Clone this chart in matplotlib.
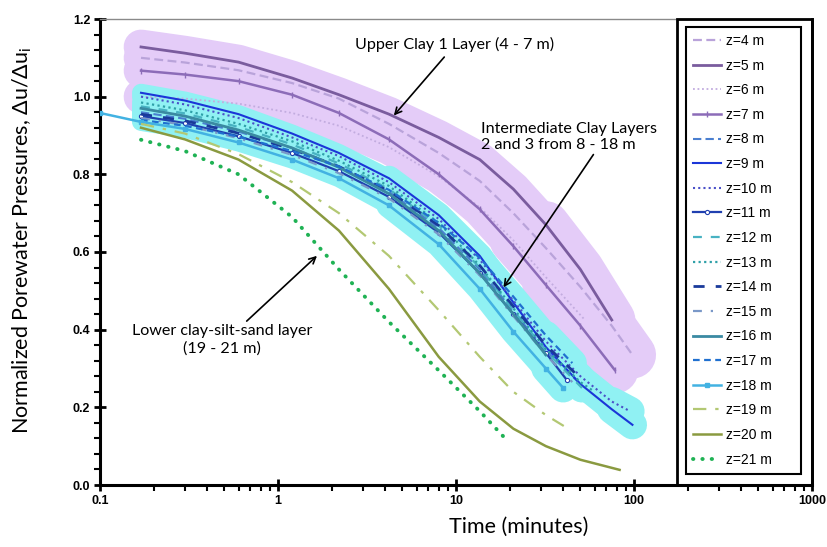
import numpy as np
import matplotlib
matplotlib.use("Agg")
import matplotlib.pyplot as plt
from matplotlib.patches import Rectangle
from matplotlib.ticker import FixedLocator, NullFormatter, LogLocator

# ---------------- data ----------------
# common time readings (minutes)
t_grid = [0.17, 0.3, 0.6, 1.2, 2.2, 4.2, 8, 13.6, 21, 32, 50, 75, 100]

# Upper clay 1 layer
t_z4 = t_grid[:11] + [75, 98]
v_z4 = [1.100, 1.088, 1.068, 1.035, 0.995, 0.930, 0.855, 0.783, 0.700, 0.610, 0.510, 0.410, 0.335]
t_z5 = t_grid[:12]
v_z5 = [1.128, 1.112, 1.089, 1.048, 1.005, 0.955, 0.895, 0.838, 0.762, 0.670, 0.555, 0.425]
t_z6 = t_grid[:10] + [53]
v_z6 = [1.000, 0.995, 0.982, 0.958, 0.925, 0.870, 0.795, 0.715, 0.630, 0.535, 0.425]
t_z7 = t_grid[:11] + [78]
v_z7 = [1.067, 1.057, 1.040, 1.005, 0.958, 0.890, 0.800, 0.710, 0.615, 0.515, 0.410, 0.296]

# Intermediate clay layers 2 and 3
t_z8 = t_grid[:10] + [50]
v_z8 = [0.960, 0.943, 0.910, 0.868, 0.820, 0.755, 0.662, 0.555, 0.447, 0.345, 0.260]
t_z9 = t_grid[:12] + [98]
v_z9 = [1.010, 0.990, 0.955, 0.905, 0.855, 0.790, 0.695, 0.590, 0.470, 0.355, 0.260, 0.195, 0.155]
t_z10 = t_grid[:12] + [95]
v_z10 = [1.000, 0.980, 0.945, 0.895, 0.847, 0.780, 0.685, 0.580, 0.475, 0.370, 0.280, 0.215, 0.190]
t_z11 = t_grid[:10] + [42]
v_z11 = [0.950, 0.932, 0.898, 0.855, 0.808, 0.742, 0.650, 0.545, 0.440, 0.340, 0.270]
t_z12 = t_grid[:10] + [51]
v_z12 = [0.975, 0.957, 0.922, 0.877, 0.828, 0.762, 0.668, 0.560, 0.450, 0.345, 0.250]
t_z13 = t_grid[:11] + [60]
v_z13 = [0.985, 0.965, 0.930, 0.885, 0.835, 0.770, 0.675, 0.565, 0.455, 0.350, 0.265, 0.240]
t_z14 = t_grid[:10] + [50]
v_z14 = [0.955, 0.938, 0.906, 0.865, 0.820, 0.757, 0.668, 0.565, 0.460, 0.360, 0.275]
t_z15 = t_grid[:10] + [45]
v_z15 = [0.945, 0.927, 0.893, 0.850, 0.803, 0.738, 0.645, 0.540, 0.435, 0.335, 0.265]
t_z16 = t_grid[:10]
v_z16 = [0.970, 0.950, 0.914, 0.868, 0.818, 0.750, 0.655, 0.545, 0.440, 0.335]
t_z17 = t_grid[:10] + [45]
v_z17 = [0.940, 0.925, 0.897, 0.860, 0.820, 0.760, 0.675, 0.585, 0.485, 0.385, 0.314]
t_z18 = [0.1] + t_grid[:10] + [40]
v_z18 = [0.958, 0.935, 0.917, 0.882, 0.838, 0.790, 0.720, 0.620, 0.505, 0.395, 0.300, 0.250]

# Lower clay-silt-sand layer
t_z19 = t_grid[:10] + [42]
v_z19 = [0.930, 0.905, 0.852, 0.780, 0.700, 0.590, 0.450, 0.330, 0.240, 0.180, 0.147]
t_z20 = t_grid[:11] + [83]
v_z20 = [0.920, 0.890, 0.838, 0.758, 0.655, 0.505, 0.330, 0.215, 0.145, 0.100, 0.065, 0.039]
t_z21 = t_grid[:8] + [18.8]
v_z21 = [0.889, 0.860, 0.800, 0.690, 0.555, 0.420, 0.295, 0.190, 0.121]

labels = ["z=%d m" % z for z in range(4, 22)]
x_ticks = [0.1, 1, 10, 100, 1000]
x_ticklabels = ["0.1", "1", "10", "100", "1000"]
y_ticks = [0.0, 0.2, 0.4, 0.6, 0.8, 1.0, 1.2]

series = [
    (t_z4, v_z4, dict(color="#b9a3da", ls=(0, (4, 2)), lw=1.6)),
    (t_z5, v_z5, dict(color="#7a5c9e", ls="-", lw=2.0)),
    (t_z6, v_z6, dict(color="#c2acdf", ls=(0, (1, 1.5)), lw=1.3)),
    (t_z7, v_z7, dict(color="#8c6cb8", ls="-", lw=1.8, marker="|", ms=4, mew=1)),
    (t_z8, v_z8, dict(color="#4a7fd0", ls=(0, (4, 2)), lw=1.5)),
    (t_z9, v_z9, dict(color="#1b36d8", ls="-", lw=1.5)),
    (t_z10, v_z10, dict(color="#4a50c8", ls=(0, (1, 1.5)), lw=1.5)),
    (t_z11, v_z11, dict(color="#2040b0", ls="-", lw=1.6, marker="o", ms=3, mfc="white", mew=0.8)),
    (t_z12, v_z12, dict(color="#48b2c2", ls=(0, (4, 4)), lw=1.6)),
    (t_z13, v_z13, dict(color="#2fa0a8", ls=(0, (1, 1.5)), lw=1.6)),
    (t_z14, v_z14, dict(color="#1a3a9a", ls=(0, (4, 4)), lw=2.0)),
    (t_z15, v_z15, dict(color="#7a98c8", ls=(0, (4, 4, 1, 4)), lw=1.6)),
    (t_z16, v_z16, dict(color="#3a8aa2", ls="-", lw=2.0)),
    (t_z17, v_z17, dict(color="#2070d0", ls=(0, (3, 2)), lw=1.6)),
    (t_z18, v_z18, dict(color="#42b2e2", ls="-", lw=1.8, marker="s", ms=2.2)),
    (t_z19, v_z19, dict(color="#b3c873", ls=(0, (6, 4, 1.5, 4)), lw=1.6)),
    (t_z20, v_z20, dict(color="#8a9a40", ls="-", lw=1.8)),
    (t_z21, v_z21, dict(color="#1fb254", ls=(0, (0.1, 2.3)), lw=2.8, dash_capstyle="round")),
]

fig = plt.figure(figsize=(8.28, 5.47), dpi=100)
ax = fig.add_axes([100 / 828, (547 - 485) / 547, (812 - 100) / 828, (485 - 19) / 547])
ax.set_xscale("log")
ax.set_xlim(0.1, 1000)
ax.set_ylim(0, 1.2)

# highlight bands built from the data curves
purple_band = "#e4ccf8"
cyan_band = "#90f1f3"
for i in range(0, 4):
    t, v, _ = series[i]
    ax.plot(t, v, color=purple_band, lw=25, solid_capstyle="round", solid_joinstyle="round", zorder=1)
    ax.plot(t[-3:], v[-3:], color=purple_band, lw=34, solid_capstyle="round", zorder=1)
for i in range(4, 15):
    t, v, _ = series[i]
    if i == 14:
        t, v = t[1:], v[1:]
    ax.plot(t, v, color=cyan_band, lw=13, solid_capstyle="round", solid_joinstyle="round", zorder=2)
    ax.plot(t[5:], v[5:], color=cyan_band, lw=18, solid_capstyle="round", solid_joinstyle="round", zorder=2)
    ax.plot(t[-2:], v[-2:], color=cyan_band, lw=21, solid_capstyle="round", zorder=2)

handles = []
for (t, v, st), lab in zip(series, labels):
    h, = ax.plot(t, v, label=lab, zorder=3, **st)
    handles.append(h)

# axes styling
for s in ["left", "bottom"]:
    ax.spines[s].set_linewidth(2.2)
    ax.spines[s].set_color("black")
ax.spines["top"].set_color("#8a8a8a")
ax.spines["top"].set_linewidth(1.0)
ax.spines["right"].set_linewidth(2.0)

ax.xaxis.set_major_locator(FixedLocator(x_ticks))
ax.set_xticklabels(x_ticklabels)
ax.xaxis.set_minor_locator(LogLocator(base=10, subs=np.arange(2, 10)))
ax.xaxis.set_minor_formatter(NullFormatter())
ax.yaxis.set_major_locator(FixedLocator(y_ticks))
ax.set_yticklabels(["%.1f" % y for y in y_ticks])
ax.yaxis.set_minor_locator(FixedLocator(np.arange(0, 1.2001, 0.04)))
ax.tick_params(which="major", direction="inout", length=8, width=2, labelsize=9, pad=3)
ax.tick_params(which="minor", direction="out", length=4, width=1.5)
ax.tick_params(top=False, right=False, which="both")
for lab in ax.get_xticklabels() + ax.get_yticklabels():
    lab.set_fontweight("bold")
    lab.set_family(["Liberation Sans", "DejaVu Sans"])

ax.set_xlabel("Time (minutes)", family=["Lato", "DejaVu Sans"], fontsize=15.5)
ax.xaxis.label.set_va("center")
ax.xaxis.set_label_coords((519 - 100) / 712, (485 - 527) / 466)
ax.set_ylabel("Normalized Porewater Pressures, Δu/Δu$_\\mathregular{i}$",
              family=["Lato", "DejaVu Sans"], fontsize=15.5)
ax.yaxis.label.set_va("center")
ax.yaxis.set_label_coords((22 - 100) / 712, (485 - 240) / 466)

# legend with outer frame
lx0 = (686 - 100) / 712
lw_ = (801 - 686) / 712
ltop = (485 - 27) / 466
leg = ax.legend(handles=handles, loc="upper left", bbox_to_anchor=(lx0, 0, lw_, ltop), mode="expand",
                borderaxespad=0,
                prop=dict(family="Liberation Sans", size=10), frameon=True, fancybox=False,
                edgecolor="black", framealpha=1, labelspacing=0.765, handlelength=2.0,
                handletextpad=0.35, borderpad=0.5)
leg.get_frame().set_linewidth(1.5)
ax.add_patch(Rectangle(((677 - 100) / 712, 0), 1 - (677 - 100) / 712, 1.0, transform=ax.transAxes,
                       fill=False, edgecolor="black", lw=2.0, zorder=5, clip_on=False))

afont = dict(family=["Lato", "DejaVu Sans"], fontsize=11.6)
ax.annotate("Upper Clay 1 Layer (4 - 7 m)", xy=(4.37, 0.946), xytext=(9.87, 1.134),
            ha="center", va="center", arrowprops=dict(arrowstyle="->", color="black", lw=1.2), **afont)
ax.annotate("Intermediate Clay Layers\n2 and 3 from 8 - 18 m", xy=(18.1, 0.503), xytext=(13.8, 0.897),
            ha="left", va="center", linespacing=1.2,
            arrowprops=dict(arrowstyle="->", color="black", lw=1.2, shrinkA=0,
                            relpos=(0.65, 0.0)), **afont)
ax.annotate("Lower clay-silt-sand layer\n(19 - 21 m)", xy=(1.70, 0.595), xytext=(0.485, 0.374),
            ha="center", va="center", linespacing=1.3,
            arrowprops=dict(arrowstyle="->", color="black", lw=1.2, shrinkA=0,
                            relpos=(0.62, 1.0)), **afont)

fig.savefig("out.png", dpi=100)
